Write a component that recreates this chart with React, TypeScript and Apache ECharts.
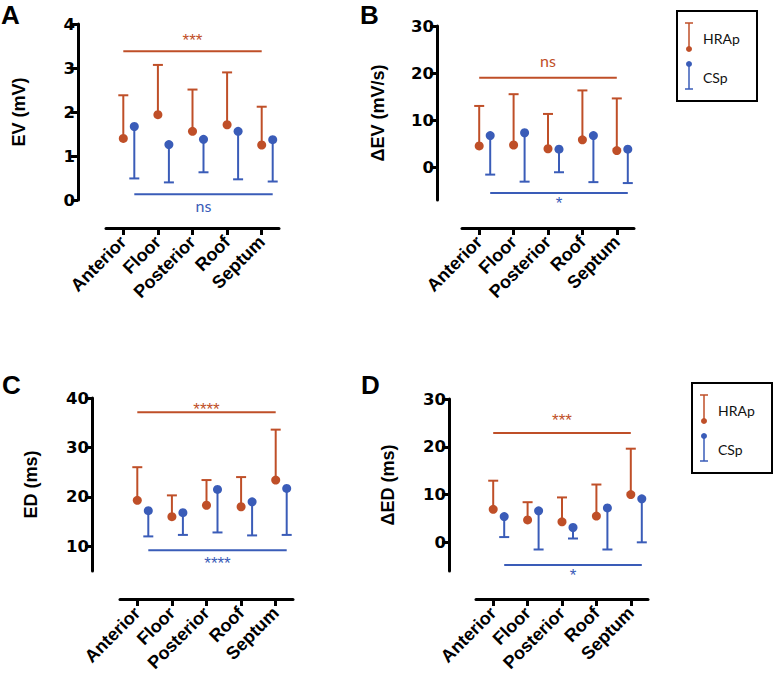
import React, { useEffect, useRef } from "react";
import * as echarts from "echarts";

const categories = ["Anterior", "Floor", "Posterior", "Roof", "Septum"];
const seriesNames = ["HRAp", "CSp"];

// Panel A: EV (mV)
const evHrapMean = [1.4, 1.94, 1.56, 1.71, 1.25];
const evHrapUpper = [2.38, 3.07, 2.51, 2.9, 2.12];
const evCspMean = [1.67, 1.26, 1.38, 1.56, 1.37];
const evCspLower = [0.49, 0.4, 0.63, 0.47, 0.42];
const evSigY = [3.38, 0.13];
const evSigLabels = ["***", "ns"];
const evTicks = [0, 1, 2, 3, 4];

// Panel B: ΔEV (mV/s)
const devHrapMean = [4.5, 4.7, 3.9, 5.8, 3.5];
const devHrapUpper = [13.0, 15.5, 11.3, 16.3, 14.6];
const devCspMean = [6.7, 7.3, 3.8, 6.7, 3.8];
const devCspLower = [-1.6, -3.1, -1.1, -3.2, -3.4];
const devSigY = [19.0, -5.5];
const devSigLabels = ["ns", "*"];
const devTicks = [0, 10, 20, 30];

// Panel C: ED (ms)
const edHrapMean = [19.3, 16.0, 18.3, 18.0, 23.4];
const edHrapUpper = [26.0, 20.3, 23.4, 24.0, 33.6];
const edCspMean = [17.2, 16.8, 21.5, 19.0, 21.7];
const edCspLower = [12.0, 12.3, 12.8, 12.2, 12.3];
const edSigY = [37.1, 9.2];
const edSigLabels = ["****", "****"];
const edTicks = [10, 20, 30, 40];

// Panel D: ΔED (ms)
const dedHrapMean = [6.9, 4.7, 4.3, 5.5, 10.0];
const dedHrapUpper = [12.9, 8.4, 9.4, 12.1, 19.6];
const dedCspMean = [5.4, 6.6, 3.1, 7.2, 9.1];
const dedCspLower = [1.1, -1.5, 0.8, -1.5, 0.0];
const dedSigY = [22.9, -4.75];
const dedSigLabels = ["***", "*"];
const dedTicks = [0, 10, 20, 30];

const ORANGE = "#BF4F28";
const BLUE = "#3A5CB8";
const CSP_DX = 11;
const BOLD_FONT = "'Liberation Sans', Arial, sans-serif";
const TICK_FONT = "'DejaVu Sans', sans-serif";
const LIGHT_FONT = "Lato, 'Open Sans', sans-serif";
const STAR_FONT = "'Liberation Sans', Arial, sans-serif";

const panels = [
  {
    letter: "A", letterX: 1, letterY: 15,
    name: "EV (mV)", nameGap: 50,
    grid: { left: 106, top: 24, width: 173, height: 176 },
    yMin: 0, yMax: 4, yOffset: 28, ticks: evTicks,
    hMean: evHrapMean, hBound: evHrapUpper, cMean: evCspMean, cBound: evCspLower,
    sigY: evSigY, sigLabels: evSigLabels, textDy: [-13, 11],
  },
  {
    letter: "B", letterX: 360, letterY: 15,
    name: "ΔEV (mV/s)", nameGap: 50,
    grid: { left: 462, top: 26, width: 172, height: 174 },
    yMin: -7, yMax: 30, yOffset: 25, ticks: devTicks,
    hMean: devHrapMean, hBound: devHrapUpper, cMean: devCspMean, cBound: devCspLower,
    sigY: devSigY, sigLabels: devSigLabels, textDy: [-17, 9],
  },
  {
    letter: "C", letterX: 2, letterY: 385,
    name: "ED (ms)", nameGap: 52,
    grid: { left: 120, top: 398, width: 173, height: 173 },
    yMin: 5, yMax: 40, yOffset: 28, ticks: edTicks,
    hMean: edHrapMean, hBound: edHrapUpper, cMean: edCspMean, cBound: edCspLower,
    sigY: edSigY, sigLabels: edSigLabels, textDy: [-5, 11],
  },
  {
    letter: "D", letterX: 361, letterY: 385,
    name: "ΔED (ms)", nameGap: 52,
    grid: { left: 476, top: 399, width: 172, height: 172 },
    yMin: -6, yMax: 30, yOffset: 27, ticks: dedTicks,
    hMean: dedHrapMean, hBound: dedHrapUpper, cMean: dedCspMean, cBound: dedCspLower,
    sigY: dedSigY, sigLabels: dedSigLabels, textDy: [-14, 8],
  },
];

function errorSeries(idx: number, name: string, mean: number[], bound: number[], color: string, dx: number) {
  return {
    type: "custom",
    name,
    xAxisIndex: idx,
    yAxisIndex: idx,
    data: categories.map((_, i) => [i, mean[i], bound[i]]),
    renderItem: (params: any, api: any) => {
      const i = api.value(0);
      const p = api.coord([i, api.value(1)]);
      const q = api.coord([i, api.value(2)]);
      const x = p[0] + dx;
      return {
        type: "group",
        children: [
          { type: "line", shape: { x1: x, y1: p[1], x2: x, y2: q[1] }, style: { stroke: color, lineWidth: 2 } },
          { type: "line", shape: { x1: x - 5, y1: q[1], x2: x + 5, y2: q[1] }, style: { stroke: color, lineWidth: 2 } },
          { type: "circle", shape: { cx: x, cy: p[1], r: 4.5 }, style: { fill: color } },
        ],
      };
    },
  };
}

function sigSeries(idx: number, y: number, label: string, color: string, dx: number, textDy: number) {
  const isStar = label.indexOf("*") >= 0;
  return {
    type: "custom",
    xAxisIndex: idx,
    yAxisIndex: idx,
    data: [[0, categories.length - 1, y]],
    renderItem: (params: any, api: any) => {
      const p0 = api.coord([api.value(0), api.value(2)]);
      const p1 = api.coord([api.value(1), api.value(2)]);
      const x0 = p0[0] + dx;
      const x1 = p1[0] + dx;
      return {
        type: "group",
        children: [
          { type: "line", shape: { x1: x0, y1: p0[1], x2: x1, y2: p0[1] }, style: { stroke: color, lineWidth: 2 } },
          {
            type: "text",
            style: {
              text: label, x: (x0 + x1) / 2, y: p0[1] + textDy + (isStar ? 2 : 0),
              align: "center", verticalAlign: "middle",
              fill: color, fontSize: isStar ? 17 : 16, fontFamily: isStar ? STAR_FONT : LIGHT_FONT,
            },
          },
        ],
      };
    },
  };
}

function legendGraphic(bx: number, by: number) {
  const lx = bx + 12;
  const tx = bx + 26;
  return [
    { type: "rect", shape: { x: bx, y: by, width: 80, height: 90 }, style: { fill: "#fff", stroke: "#000", lineWidth: 2 } },
    { type: "line", shape: { x1: lx, y1: by + 12, x2: lx, y2: by + 38 }, style: { stroke: ORANGE, lineWidth: 1.5 } },
    { type: "line", shape: { x1: lx - 4, y1: by + 12, x2: lx + 4, y2: by + 12 }, style: { stroke: ORANGE, lineWidth: 1.5 } },
    { type: "circle", shape: { cx: lx, cy: by + 38, r: 3 }, style: { fill: ORANGE } },
    { type: "text", style: { text: seriesNames[0], x: tx, y: by + 27, verticalAlign: "middle", fill: "#111", fontSize: 14, fontFamily: LIGHT_FONT } },
    { type: "circle", shape: { cx: lx, cy: by + 53, r: 3 }, style: { fill: BLUE } },
    { type: "line", shape: { x1: lx, y1: by + 53, x2: lx, y2: by + 78 }, style: { stroke: BLUE, lineWidth: 1.5 } },
    { type: "line", shape: { x1: lx - 4, y1: by + 78, x2: lx + 4, y2: by + 78 }, style: { stroke: BLUE, lineWidth: 1.5 } },
    { type: "text", style: { text: seriesNames[1], x: tx, y: by + 66, verticalAlign: "middle", fill: "#111", fontSize: 14, fontFamily: LIGHT_FONT } },
  ];
}

export default function App() {
  const ref = useRef<HTMLDivElement>(null);
  useEffect(() => {
    if (!ref.current) return;
    const chart = echarts.init(ref.current, null, { renderer: "svg" });
    const grid = panels.map((p) => ({ ...p.grid, containLabel: false }));
    const xAxis = panels.map((p, i) => ({
      type: "category",
      gridIndex: i,
      data: categories,
      position: "bottom",
      offset: 28,
      boundaryGap: true,
      axisLine: { show: true, onZero: false, lineStyle: { color: "#000", width: 3 } },
      axisTick: { show: true, alignWithLabel: true, length: 7, lineStyle: { color: "#000", width: 3 } },
      axisLabel: {
        rotate: 45, interval: 0, margin: 11, color: "#000",
        fontFamily: BOLD_FONT, fontWeight: "bold", fontSize: 18,
      },
      splitLine: { show: false },
    }));
    const yAxis = panels.map((p, i) => ({
      type: "value",
      gridIndex: i,
      min: p.yMin,
      max: p.yMax,
      offset: p.yOffset,
      name: p.name,
      nameLocation: "middle",
      nameGap: p.nameGap,
      nameTextStyle: { color: "#000", fontFamily: BOLD_FONT, fontWeight: "bold", fontSize: 18 },
      axisLine: { show: true, onZero: false, lineStyle: { color: "#000", width: 3 } },
      axisTick: { show: true, length: 7, lineStyle: { color: "#000", width: 3 }, customValues: p.ticks },
      axisLabel: {
        customValues: p.ticks, margin: 3, color: "#000",
        fontFamily: TICK_FONT, fontWeight: "bold", fontSize: 16.5,
      },
      splitLine: { show: false },
    }));
    const series: any[] = [];
    panels.forEach((p, i) => {
      series.push(errorSeries(i, seriesNames[0], p.hMean, p.hBound, ORANGE, 0));
      series.push(errorSeries(i, seriesNames[1], p.cMean, p.cBound, BLUE, CSP_DX));
      series.push(sigSeries(i, p.sigY[0], p.sigLabels[0], ORANGE, 0, p.textDy[0]));
      series.push(sigSeries(i, p.sigY[1], p.sigLabels[1], BLUE, CSP_DX, p.textDy[1]));
    });
    const letters = panels.map((p) => ({
      type: "text",
      style: {
        text: p.letter, x: p.letterX, y: p.letterY, verticalAlign: "middle",
        fill: "#000", fontFamily: BOLD_FONT, fontWeight: "bold", fontSize: 26,
      },
    }));
    chart.setOption({
      animation: false,
      backgroundColor: "#fff",
      grid,
      xAxis,
      yAxis,
      series,
      graphic: [...letters, ...legendGraphic(677, 11), ...legendGraphic(692, 383)],
    });
    return () => chart.dispose();
  }, []);
  return <div ref={ref} style={{ position: "fixed", left: 0, top: 0, width: 774, height: 682 }} />;
}
